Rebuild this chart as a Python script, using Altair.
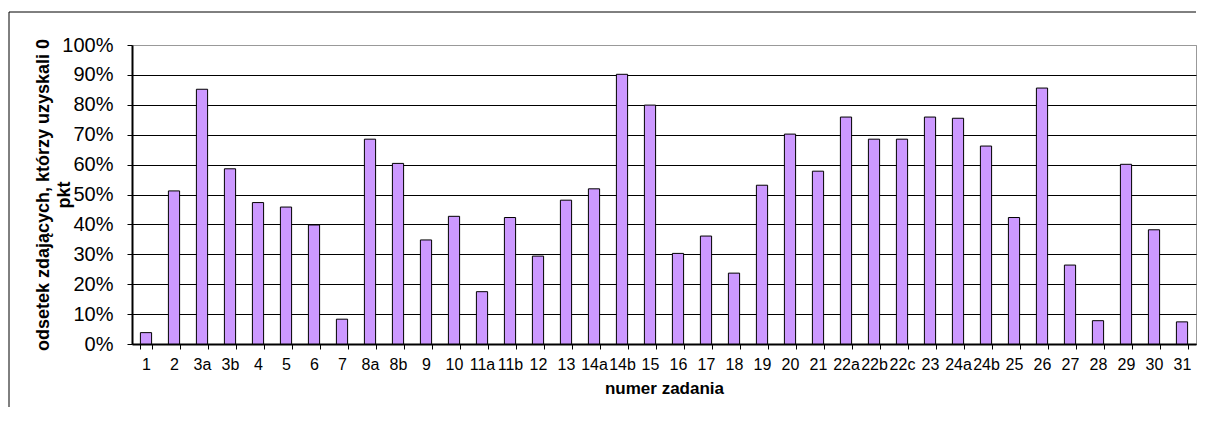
import altair as alt
import pandas as pd

categories = ["1", "2", "3a", "3b", "4", "5", "6", "7", "8a", "8b", "9", "10",
              "11a", "11b", "12", "13", "14a", "14b", "15", "16", "17", "18",
              "19", "20", "21", "22a", "22b", "22c", "23", "24a", "24b", "25",
              "26", "27", "28", "29", "30", "31"]
values = [3.8, 51.2, 85.2, 58.6, 47.3, 45.8, 39.8, 8.3, 68.5, 60.4, 34.8, 42.7,
          17.5, 42.3, 29.4, 48.1, 51.9, 90.2, 79.9, 30.3, 36.1, 23.7,
          53.1, 70.2, 57.8, 75.9, 68.5, 68.5, 75.9, 75.5, 66.2, 42.3,
          85.6, 26.4, 7.8, 60.1, 38.2, 7.4]
y_ticks = [0, 0.1, 0.2, 0.3, 0.4, 0.5, 0.6, 0.7, 0.8, 0.9, 1.0]

df = pd.DataFrame({"zadanie": categories, "odsetek": [v / 100 for v in values]})

FONT = "Liberation Sans"
W, H = 1064, 299

bars = alt.Chart(df).mark_bar(
    color="#CC99FF", stroke="#000000", strokeWidth=1
).encode(
    x=alt.X("zadanie:N", sort=categories,
            scale=alt.Scale(paddingInner=0.6, paddingOuter=0.3),
            axis=alt.Axis(title="numer zadania", labelAngle=0, labelFontSize=16,
                          labelFont=FONT, labelColor="#000000", labelPadding=7,
                          tickBand="extent", tickSize=5, tickColor="#000000",
                          domainColor="#000000", domainWidth=2,
                          titleFont=FONT, titleFontSize=17, titleFontWeight="bold",
                          titleColor="#000000", titlePadding=8, labelOverlap=False)),
    y=alt.Y("odsetek:Q", scale=alt.Scale(domain=[0, 1], nice=False),
            axis=alt.Axis(title=["odsetek zdających, którzy uzyskali 0", "pkt"],
                          values=y_ticks, format=".0%",
                          labelFont=FONT, labelFontSize=20, labelColor="#000000",
                          labelPadding=14, tickSize=5, tickColor="#000000",
                          domainColor="#000000", domainWidth=2,
                          grid=True,
                          gridColor={"condition": {"test": "datum.value >= 1", "value": "#999999"},
                                     "value": "#000000"},
                          gridWidth=1,
                          titleFont=FONT, titleFontSize=18, titleFontWeight="bold",
                          titleColor="#000000", titleLineHeight=21, titlePadding=-12)),
)

frame_data = alt.Data(values=[{"k": 1}])
top_rule = alt.Chart(frame_data).mark_rule(color="#000000", strokeWidth=1).encode(
    x=alt.value(-123), x2=alt.value(1064), y=alt.value(-33)
)
left_rule = alt.Chart(frame_data).mark_rule(color="#000000", strokeWidth=1).encode(
    x=alt.value(-123), y=alt.value(-33), y2=alt.value(362)
)

chart = alt.layer(bars, top_rule, left_rule).properties(
    width=W, height=H,
    padding={"left": 0, "top": 3, "right": 0, "bottom": 0},
    background="#ffffff",
).configure_view(stroke="#999999", strokeWidth=1)

chart.save("out.html", embed_options={"renderer": "svg", "actions": False})
